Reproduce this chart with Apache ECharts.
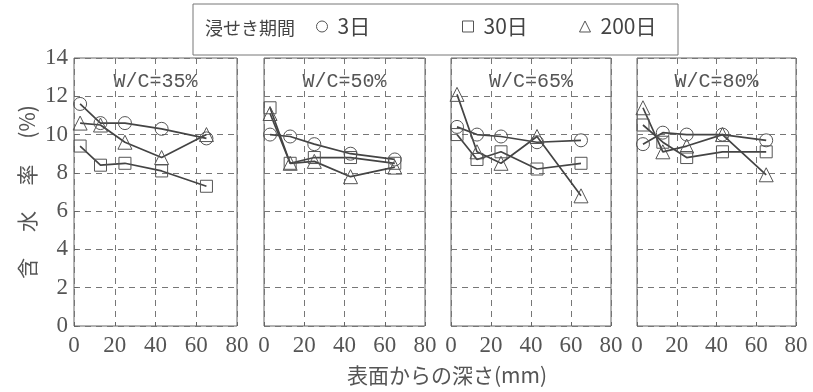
<!DOCTYPE html>
<html>
<head>
<meta charset="utf-8">
<script src="https://cdn.jsdelivr.net/npm/echarts@6/dist/echarts.min.js"></script>
<style>
html,body{margin:0;padding:0;background:#fff;}
#chart{width:813px;height:392px;}
</style>
</head>
<body>
<div id="chart"></div>
<script>
// ---- data ----
const depths = [3, 13, 25, 43, 65];               // 表面からの深さ (mm)
const panelTitles = ['W/C=35%', 'W/C=50%', 'W/C=65%', 'W/C=80%'];
const seriesNames = ['3日', '30日', '200日'];
const legendTitle = '浸せき期間';
const xTicks = [0, 20, 40, 60, 80];
const yTicks = [0, 2, 4, 6, 8, 10, 12, 14];

// 含水率 (%) per panel: [3日, 30日, 200日]
const wc35_3d   = [11.6, 10.6, 10.6, 10.3, 9.8];
const wc35_30d  = [9.4, 8.4, 8.5, 8.1, 7.3];
const wc35_200d = [10.6, 10.5, 9.6, 8.8, 10.0];

const wc50_3d   = [10.0, 9.9, 9.5, 9.0, 8.7];
const wc50_30d  = [11.4, 8.5, 8.8, 8.8, 8.5];
const wc50_200d = [11.1, 8.5, 8.6, 7.8, 8.3];

const wc65_3d   = [10.4, 10.0, 9.9, 9.6, 9.7];
const wc65_30d  = [10.0, 8.7, 9.1, 8.2, 8.5];
const wc65_200d = [12.1, 9.1, 8.5, 9.9, 6.8];

const wc80_3d   = [9.5, 10.1, 10.0, 10.0, 9.7];
const wc80_30d  = [10.5, 9.6, 8.8, 9.1, 9.1];
const wc80_200d = [11.4, 9.1, 9.4, 10.0, 7.9];

const panelData = [
  [wc35_3d, wc35_30d, wc35_200d],
  [wc50_3d, wc50_30d, wc50_200d],
  [wc65_3d, wc65_30d, wc65_200d],
  [wc80_3d, wc80_30d, wc80_200d]
];

// ---- layout / style ----
const gridBoxes = [
  {left: 74, width: 163},
  {left: 264, width: 161},
  {left: 451, width: 160},
  {left: 637, width: 159}
];
const gridTop = 58, gridHeight = 268;
const symbols = ['circle', 'rect', 'triangle'];
const symbolSizes = [13, 12, 14];
const ink = '#444';
const serif = '"Liberation Serif", "DejaVu Serif", serif';
const jp = '"Noto Sans CJK JP", sans-serif';

const grids = [], xAxes = [], yAxes = [], series = [], graphics = [];

gridBoxes.forEach((g, i) => {
  grids.push({
    left: g.left, top: gridTop, width: g.width, height: gridHeight,
    show: true, borderColor: '#666', borderWidth: 1, backgroundColor: 'transparent'
  });
  xAxes.push({
    gridIndex: i, type: 'value', min: xTicks[0], max: xTicks[xTicks.length - 1], interval: 20,
    axisLine: {show: false},
    axisTick: {show: true, inside: true, length: 4, lineStyle: {color: '#666'}},
    axisLabel: {color: '#555', fontFamily: serif, fontSize: 23, margin: 8,
      formatter: v => xTicks.indexOf(v) >= 0 ? String(v) : ''},
    splitLine: {show: true, lineStyle: {color: '#777', type: [6, 5], width: 1}}
  });
  yAxes.push({
    gridIndex: i, type: 'value', min: yTicks[0], max: yTicks[yTicks.length - 1], interval: 2,
    axisLine: {show: false},
    axisTick: {show: i === 0, inside: true, length: 4, lineStyle: {color: '#666'}},
    axisLabel: {show: i === 0, color: '#555', fontFamily: serif, fontSize: 23, margin: 6},
    splitLine: {show: true, lineStyle: {color: '#777', type: [6, 5], width: 1}},
    name: i === 0 ? '含　 水　 率　 (%)' : '',
    nameLocation: 'middle', nameRotate: 90, nameGap: 36,
    nameTextStyle: {color: '#555', fontFamily: jp, fontSize: 21}
  });
  panelData[i].forEach((vals, s) => {
    series.push({
      name: seriesNames[s], type: 'line', xAxisIndex: i, yAxisIndex: i,
      data: depths.map((d, k) => [d, vals[k]]),
      symbol: symbols[s], symbolSize: symbolSizes[s],
      itemStyle: {color: 'rgba(255,255,255,0)', borderColor: '#555', borderWidth: 1},
      lineStyle: {color: ink, width: 1.7},
      emphasis: {disabled: true}, animation: false, z: 2
    });
  });
  graphics.push({
    type: 'text', x: g.left + g.width / 2, y: 82,
    style: {text: panelTitles[i], fill: '#555', font: '20px "Liberation Mono", "DejaVu Sans Mono", monospace',
      textAlign: 'center', textVerticalAlign: 'middle'}
  });
});

// legend box & texts
graphics.push({type: 'rect', shape: {x: 193, y: 4, width: 485, height: 51},
  style: {fill: 'none', stroke: '#777', lineWidth: 1}});
graphics.push({type: 'text', x: 205, y: 28,
  style: {text: legendTitle, fill: '#444', font: '18px "Noto Sans CJK JP", sans-serif', textVerticalAlign: 'middle'}});
graphics.push({type: 'text', x: 447, y: 375,
  style: {text: '表面からの深さ(mm)', fill: '#555', font: '21px "Noto Sans CJK JP", sans-serif',
    textAlign: 'center', textVerticalAlign: 'middle'}});

const legendLefts = [316, 462, 579];
const legends = seriesNames.map((n, s) => ({
  left: legendLefts[s], top: 16, padding: 0,
  data: [{name: n, icon: symbols[s]}],
  itemWidth: 11, itemHeight: 11,
  itemStyle: {color: 'rgba(255,255,255,0)', borderColor: '#555', borderWidth: 1},
  textStyle: {color: '#444', fontFamily: jp, fontSize: 21, padding: [0, 0, 0, 5]},
  selectedMode: false
}));

const chart = echarts.init(document.getElementById('chart'), null, {renderer: 'canvas'});
chart.setOption({
  backgroundColor: '#fff',
  animation: false,
  grid: grids, xAxis: xAxes, yAxis: yAxes,
  legend: legends,
  series: series,
  graphic: graphics
});
</script>
</body>
</html>
